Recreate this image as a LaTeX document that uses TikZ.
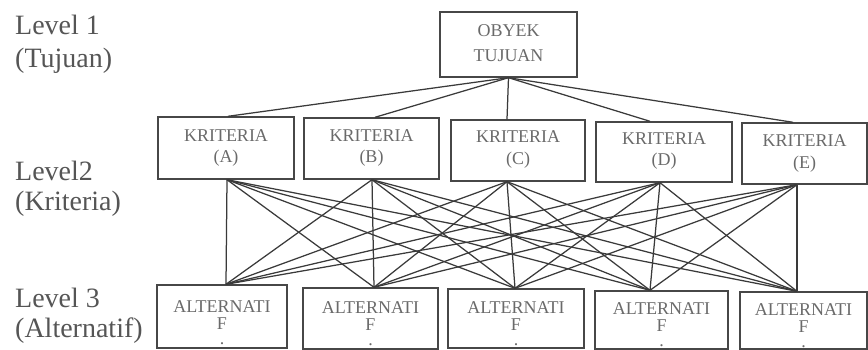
\documentclass[tikz,border=0pt]{standalone}
\usepackage{fontspec}
\setmainfont{Liberation Serif}

\definecolor{inkline}{HTML}{3A3A3A}
\definecolor{boxline}{HTML}{474747}
\definecolor{boxtext}{HTML}{6A6A6A}
\definecolor{leveltext}{HTML}{555555}

% centred lines of text whose baseline is the first line's baseline
\newcommand\linestack[1]{\vtop{\halign{\hfil##\hfil\cr#1\crcr}}}

\tikzset{
  box/.style={draw=boxline, line width=1.4pt, inner sep=0pt, text=boxtext,
              font=\fontsize{18}{21}\selectfont},
  altbox/.style={box, font=\fontsize{18}{17}\selectfont},
  link/.style={draw=inkline, line width=1.25pt},
  level/.style={anchor=base west, inner sep=0pt, text=leveltext,
                font=\fontsize{28}{33}\selectfont}
}

\begin{document}
\begin{tikzpicture}[x=1pt, y=-1pt]
\useasboundingbox (0,0) rectangle (868,350);

% level captions
\node[level] (l1a) at (15,35)  {Level 1};
\node[level] (l1b) at (15,68)  {(Tujuan)};
\node[level] (l2a) at (15,181) {Level2};
\node[level] (l2b) at (15,211) {(Kriteria)};
\node[level] (l3a) at (15,307) {Level 3};
\node[level] (l3b) at (15,337) {(Alternatif)};

% goal
\node[box, font=\fontsize{18}{25}\selectfont, minimum width=137pt, minimum height=65pt,
      text height=25pt, text depth=40pt] (goal) at (508.5,44.5)
  {\linestack{OBYEK\cr TUJUAN}};

% criteria
\node[box, minimum width=136pt, minimum height=62pt, text height=25pt, text depth=37pt]
  (ka) at (226,148) {\linestack{KRITERIA\cr (A)}};
\node[box, minimum width=135pt, minimum height=61pt, text height=24pt, text depth=37pt]
  (kb) at (371.5,148.5) {\linestack{KRITERIA\cr (B)}};
\node[box, minimum width=134pt, minimum height=61pt, text height=23pt, text depth=38pt]
  (kc) at (518,150.5) {\linestack{KRITERIA\cr (C)}};
\node[box, minimum width=136pt, minimum height=60pt, text height=23pt, text depth=37pt]
  (kd) at (664,152) {\linestack{KRITERIA\cr (D)}};
\node[box, minimum width=125pt, minimum height=61pt, text height=24pt, text depth=37pt]
  (ke) at (804.5,153.5) {\linestack{KRITERIA\cr (E)}};

% alternatives
\node[altbox, minimum width=130pt, minimum height=63pt, text height=27pt, text depth=36pt]
  (a1) at (222,316.5) {\linestack{ALTERNATI\cr F\cr\noalign{\vskip-2pt}.}};
\node[altbox, minimum width=135pt, minimum height=61pt, text height=25pt, text depth=36pt]
  (a2) at (370.5,318.5) {\linestack{ALTERNATI\cr F\cr\noalign{\vskip-2pt}.}};
\node[altbox, minimum width=136pt, minimum height=59pt, text height=24pt, text depth=35pt]
  (a3) at (516,318.5) {\linestack{ALTERNATI\cr F\cr\noalign{\vskip-2pt}.}};
\node[altbox, minimum width=133pt, minimum height=58pt, text height=23pt, text depth=35pt]
  (a4) at (661.5,320) {\linestack{ALTERNATI\cr F\cr\noalign{\vskip-2pt}.}};
\node[altbox, minimum width=127pt, minimum height=57pt, text height=23pt, text depth=34pt]
  (a5) at (803.5,320.5) {\linestack{ALTERNATI\cr F\cr\noalign{\vskip-2pt}.}};

% attachment points of the connectors
\coordinate (ka-n) at ([xshift=2pt]ka.north);
\coordinate (kb-n) at ([xshift=3.5pt]kb.north);
\coordinate (kc-n) at ([xshift=-11pt]kc.north);
\coordinate (kd-n) at ([xshift=-14pt]kd.north);
\coordinate (ke-n) at ([xshift=-11.5pt]ke.north);

\coordinate (ka-s) at ([xshift=1pt]ka.south);
\coordinate (kb-s) at ([xshift=0.5pt]kb.south);
\coordinate (kc-s) at ([xshift=-11pt]kc.south);
\coordinate (kd-s) at ([xshift=-4pt]kd.south);
\coordinate (ke-s) at ([xshift=-7.5pt]ke.south);

\coordinate (a1-n) at ([xshift=4pt]a1.north);
\coordinate (a2-n) at ([xshift=3.5pt]a2.north);
\coordinate (a3-n) at ([xshift=-1pt]a3.north);
\coordinate (a4-n) at ([xshift=-11.5pt]a4.north);
\coordinate (a5-n) at ([xshift=-6.5pt]a5.north);

% goal to every criterion
\foreach \k in {a,b,c,d,e}
  \draw[link] (goal.south) -- (k\k-n);

% every criterion to every alternative
\foreach \k in {a,b,c,d,e}
  \foreach \a in {1,...,5}
    \draw[link] (k\k-s) -- (a\a-n);
\end{tikzpicture}
\end{document}
